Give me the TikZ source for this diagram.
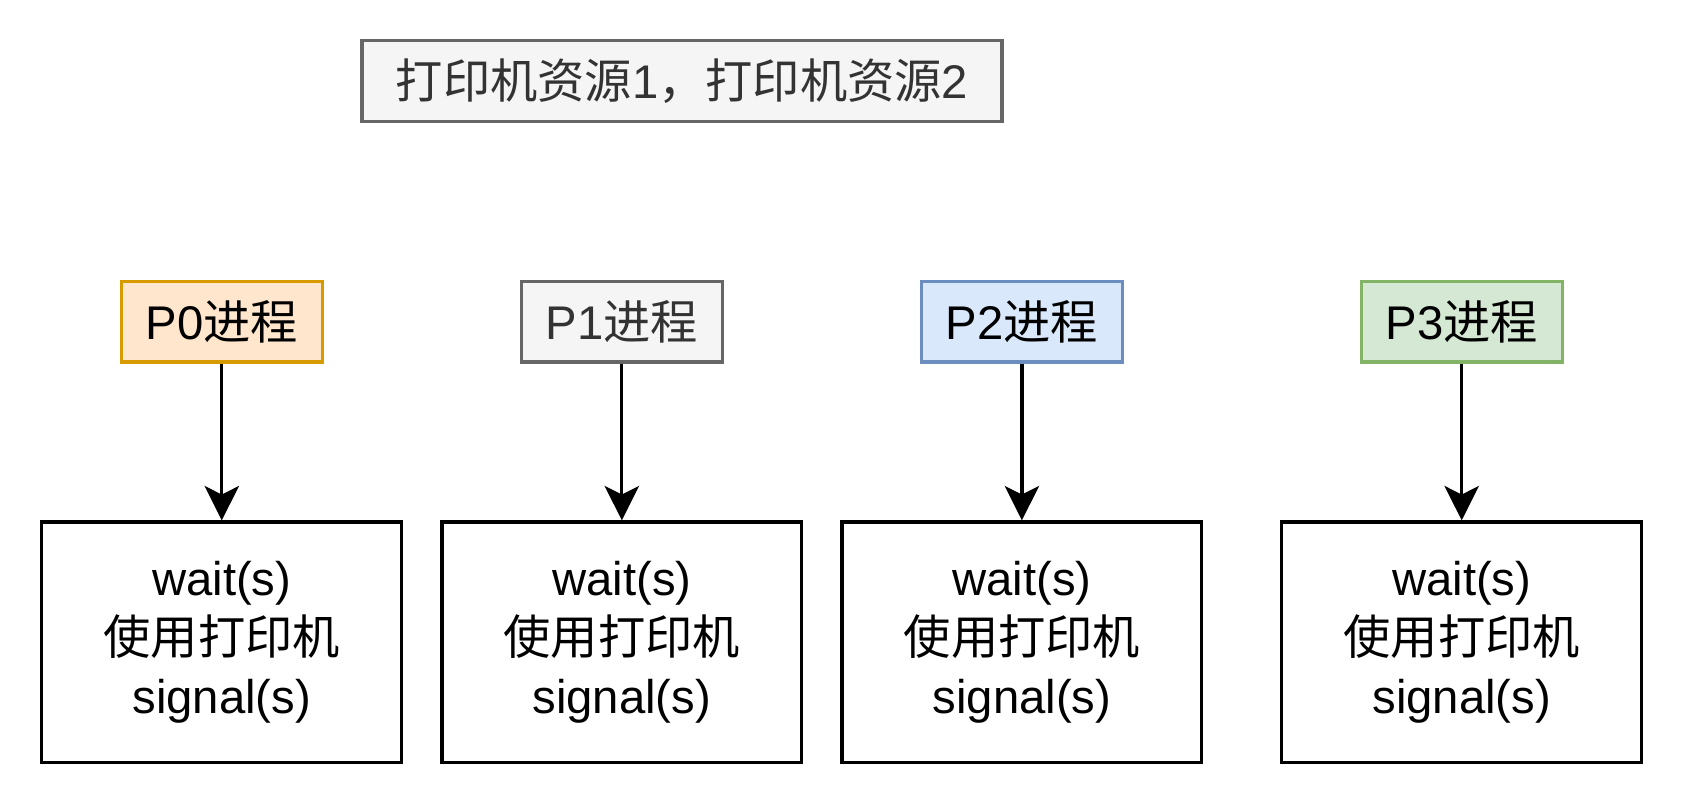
\documentclass[tikz,border=0pt]{standalone}
\usepackage{fontspec}
\setmainfont{Liberation Sans}
\newfontfamily\cjk{Noto Sans CJK SC}
\usetikzlibrary{arrows.meta, positioning}
\definecolor{grayfill}{HTML}{F5F5F5}
\definecolor{graydraw}{HTML}{666666}
\definecolor{grayfont}{HTML}{333333}
\definecolor{orangefill}{HTML}{FFE6CC}
\definecolor{orangedraw}{HTML}{D79B00}
\definecolor{bluefill}{HTML}{DAE8FC}
\definecolor{bluedraw}{HTML}{6C8EBF}
\definecolor{greenfill}{HTML}{D5E8D4}
\definecolor{greendraw}{HTML}{82B366}
\tikzset{proc/.style={draw, line width=1.5pt, minimum width=93.5pt, minimum height=37.5pt, inner sep=0pt}}
\tikzset{code/.style={draw, line width=1.5pt, minimum width=167.5pt, minimum height=112pt, align=center, inner sep=0pt}}
\tikzset{flow/.style={line width=1.5pt, -{Stealth[length=16pt, width=16pt, inset=4pt]}}}
\newcommand{\zh}[1]{{\cjk #1}}

\begin{document}
\begin{tikzpicture}[x=0.5pt, y=-0.5pt, font=\fontsize{22pt}{27.5pt}\selectfont]
  \useasboundingbox (0,0) rectangle (1568,748);

  \node[proc, fill=grayfill, draw=graydraw, text=grayfont, minimum width=298pt] (res) at (635,75.5) {\zh{打印机资源}1\zh{，打印机资源}2};

  \node[proc, fill=orangefill, draw=orangedraw] (p0) at (206.5,299.5) {P0\zh{进程}};
  \node[proc, fill=grayfill, draw=graydraw, text=grayfont] (p1) at (579,299.5) {P1\zh{进程}};
  \node[proc, fill=bluefill, draw=bluedraw] (p2) at (951.5,299.5) {P2\zh{进程}};
  \node[proc, fill=greenfill, draw=greendraw] (p3) at (1361,299.5) {P3\zh{进程}};

  \node[code] (c0) at (206.5,598) {wait(s)\\\zh{使用打印机}\\signal(s)};
  \node[code] (c1) at (579,598) {wait(s)\\\zh{使用打印机}\\signal(s)};
  \node[code] (c2) at (951.5,598) {wait(s)\\\zh{使用打印机}\\signal(s)};
  \node[code] (c3) at (1361,598) {wait(s)\\\zh{使用打印机}\\signal(s)};

  \draw[flow] (p0) -- (c0);
  \draw[flow] (p1) -- (c1);
  \draw[flow] (p2) -- (c2);
  \draw[flow] (p3) -- (c3);
\end{tikzpicture}
\end{document}
